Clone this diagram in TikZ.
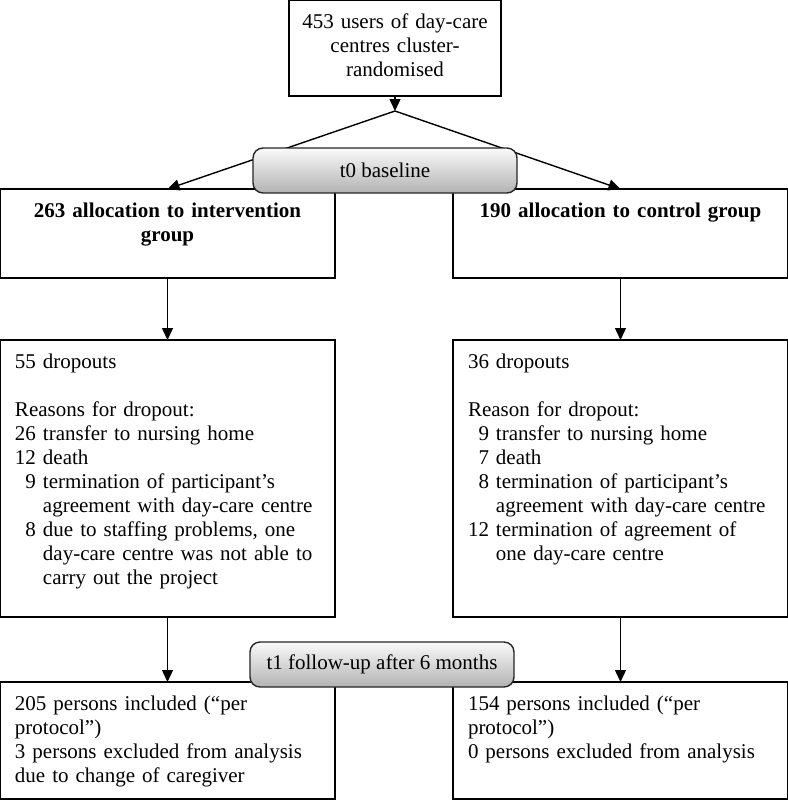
\documentclass[tikz,border=0pt]{standalone}
\usepackage{fontspec}
\setmainfont{Liberation Serif}
\usetikzlibrary{arrows.meta}
\newcommand{\chartfont}{\fontsize{10.5}{12}\selectfont}
\tikzset{
  >={Triangle[length=6pt,width=5.5pt]},
  flow/.style={line width=0.7pt, ->},
  stagebox/.style={draw, line width=0.7pt, inner xsep=7.5pt, inner ysep=0pt, outer sep=0pt,
    text width=152.5pt, align=left, text height=14.2pt},
  phase/.style={draw=black!85, line width=0.7pt, rounded corners=5pt, top color=gray!4,
    bottom color=gray!60, minimum width=132pt, minimum height=22.5pt, inner sep=0pt},
}

\begin{document}
\begin{tikzpicture}[x=0.5pt, y=-0.5pt, font=\chartfont,
  headbox/.style={stagebox, align=center, font=\chartfont\bfseries, text depth=30.3pt},
  dropbox/.style={stagebox, text depth=124.3pt},
  endbox/.style={stagebox, text depth=44.3pt},
]
\useasboundingbox (0,0) rectangle (788,800);
\node[stagebox, text width=100pt, inner xsep=3pt, align=center, text depth=33.8pt] (pool) at (395,48)
  {453 users of day-care\\centres cluster-\\randomised};
\coordinate (split) at (395,111);

\node[headbox] (alloc1) at (167.5,233.5) {263 allocation to intervention\\group};
\node[headbox] (alloc2) at (620.5,233.5) {190 allocation to control group};

\node[dropbox] (drop1) at (167.5,478.5) {55 dropouts\\[12pt]
  Reasons for dropout:\\
  \begin{tabular}[t]{@{}r@{\ }l@{}}
  26 & transfer to nursing home\\
  12 & death\\
  9 & termination of participant’s\\
    & agreement with day-care centre\\
  8 & due to staffing problems, one\\
    & day-care centre was not able to\\
    & carry out the project
  \end{tabular}};
\node[dropbox] (drop2) at (620.5,478.5) {36 dropouts\\[12pt]
  Reason for dropout:\\
  \begin{tabular}[t]{@{}r@{\ }l@{}}
  9 & transfer to nursing home\\
  7 & death\\
  8 & termination of participant’s\\
    & agreement with day-care centre\\
  12 & termination of agreement of\\
    & one day-care centre
  \end{tabular}};

\node[endbox] (res1) at (167.5,740.5) {205 persons included (“per\\protocol”)\\
  3 persons excluded from analysis\\due to change of caregiver};
\node[endbox] (res2) at (620.5,740.5) {154 persons included (“per\\protocol”)\\
  0 persons excluded from analysis};

\draw[flow] (pool) -- (split);
\draw[flow] (split) -- (alloc1.north);
\draw[flow] (split) -- (alloc2.north);
\draw[flow] (alloc1) -- (drop1);
\draw[flow] (alloc2) -- (drop2);
\draw[flow] (drop1) -- (res1);
\draw[flow] (drop2) -- (res2);

% time points
\node[phase] (t0) at (385,170.5) {t0 baseline};
\node[phase] (t1) at (382,664.5) {t1 follow-up after 6 months};
\end{tikzpicture}
\end{document}
